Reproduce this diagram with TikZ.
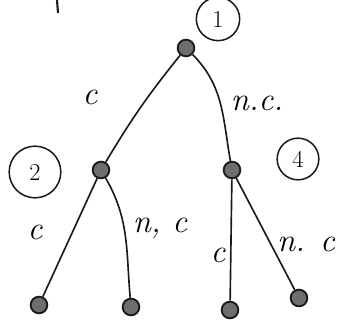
\documentclass[tikz,border=0pt]{standalone}
\usepackage{tikz}
\usetikzlibrary{positioning}
\definecolor{inkdark}{HTML}{1A1A1A}
\definecolor{inkfill}{HTML}{6E6E6E}

\begin{document}
\begin{tikzpicture}[x=0.3mm, y=0.3mm, font=\fontsize{28}{30}\selectfont\itshape,
    dot/.style={circle, draw=inkdark, line width=1.6pt, fill=inkfill, minimum size=5mm, inner sep=0pt},
    tag/.style={circle, draw=inkdark, line width=1.3pt, minimum size=13mm, inner sep=0pt, font=\huge},
    branch/.style={draw=inkdark, line width=1.4pt}]
      \useasboundingbox (0,0) rectangle (358,-321);
      % nodes
      \node[dot] (root) at (186,-48) {};
      \node[dot] (left) at (101,-170) {};
      \node[dot] (right) at (232,-170) {};
      \node[dot] (ll) at (39,-305) {};
      \node[dot] (lr) at (131,-307) {};
      \node[dot] (rl) at (230,-310) {};
      \node[dot] (rr) at (299,-298) {};
      % numbers
      \node[tag] (t1) at (218,-19) {1};
      \node[tag, minimum size=15.5mm] (t2) at (35,-172) {2};
      \node[tag, minimum size=12.5mm] (t4) at (298,-159) {4};
      % branches
      \draw[branch] (root) to[bend right=4] (left);
      \draw[branch] (root) to[out=-45, in=100] (right);
      \draw[branch] (left) -- (ll);
      \draw[branch] (left) to[out=-60, in=95] (lr);
      \draw[branch] (right) -- (rl);
      \draw[branch] (right) -- (rr);
      % labels
      \node (c1) at (90,-97) {c};
      \node (nc1) at (257,-103) {n.c.};
      \node (c2) at (35,-232) {c};
      \node (nc2) at (160,-228) {n, c};
      \node (c3) at (218,-255) {c};
      \node (nc3) at (306,-244) {n. c};
      % stray mark
      \draw[inkdark, line width=1.8pt] (57,0) -- (58,-13);
    \end{tikzpicture}
\end{document}
